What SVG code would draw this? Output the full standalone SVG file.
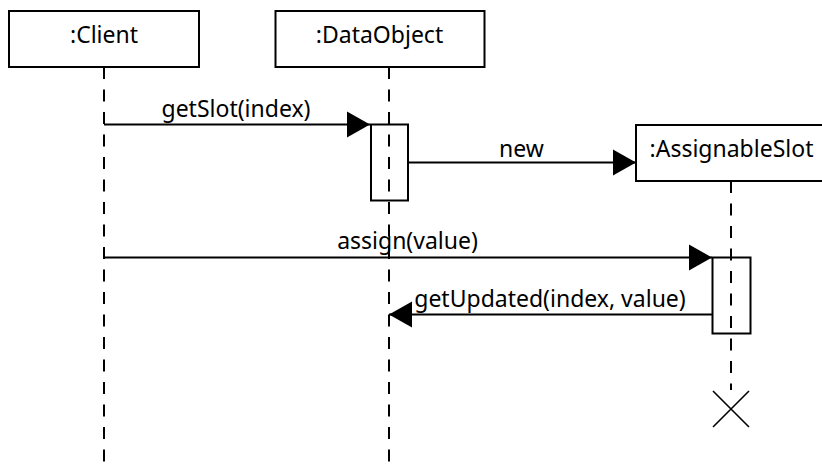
<svg xmlns="http://www.w3.org/2000/svg" width="822" height="464" viewBox="0 0 822 464">
  <style>
    .box { fill: #ffffff; stroke: #000000; stroke-width: 2; }
    .act { fill: none; stroke: #000000; stroke-width: 2; }
    .life { fill: none; stroke: #000000; stroke-width: 2; stroke-dasharray: 12 10.5; }
    .msg { fill: none; stroke: #000000; stroke-width: 2; }
    .label { font-family: "Noto Sans", "Open Sans", sans-serif; font-size: 23px; fill: #000000; text-anchor: middle; }
    .end { fill: none; stroke: #000000; stroke-width: 1.6; }
  </style>
  <defs>
    <marker id="head" markerUnits="userSpaceOnUse" markerWidth="24" markerHeight="28" viewBox="0 0 24 28" refX="23" refY="14" orient="auto">
      <path d="M0,1 L23,14 L0,27 Z" fill="#000000"/>
    </marker>
  </defs>

  <rect width="822" height="464" fill="#ffffff"/>

  <!-- lifeline: Client -->
  <g id="client">
    <rect class="box" x="9" y="11" width="190" height="56"/>
    <text class="label" x="104" y="43">:Client</text>
    <line class="life" x1="104" y1="67" x2="104" y2="464"/>
  </g>

  <!-- lifeline: DataObject -->
  <g id="dataobject">
    <rect class="box" x="275.5" y="11" width="209" height="56"/>
    <text class="label" x="379.5" y="43">:DataObject</text>
    <rect class="act" x="371" y="124.5" width="37" height="76"/>
    <line class="life" x1="389" y1="67" x2="389" y2="464"/>
  </g>

  <!-- lifeline: AssignableSlot (created, then destroyed) -->
  <g id="assignableslot">
    <rect class="box" x="636" y="125" width="192" height="56"/>
    <text class="label" x="731.5" y="157">:AssignableSlot</text>
    <rect class="act" x="712.5" y="257.5" width="38" height="76"/>
    <line class="life" x1="731" y1="181" x2="731" y2="390"/>
    <path class="end" d="M713,391 L749,427 M749,391 L713,427"/>
  </g>

  <!-- messages -->
  <g id="messages">
    <line class="msg" x1="104" y1="124.5" x2="370" y2="124.5" marker-end="url(#head)"/>
    <text class="label" x="236" y="117">getSlot(index)</text>

    <line class="msg" x1="408" y1="162.5" x2="636" y2="162.5" marker-end="url(#head)"/>
    <text class="label" x="521.5" y="156.5">new</text>

    <line class="msg" x1="104" y1="257.5" x2="712" y2="257.5" marker-end="url(#head)"/>
    <text class="label" x="407.5" y="249">assign(value)</text>

    <line class="msg" x1="712" y1="314.5" x2="389" y2="314.5" marker-end="url(#head)"/>
    <text class="label" x="550" y="306.5">getUpdated(index, value)</text>
  </g>
</svg>
